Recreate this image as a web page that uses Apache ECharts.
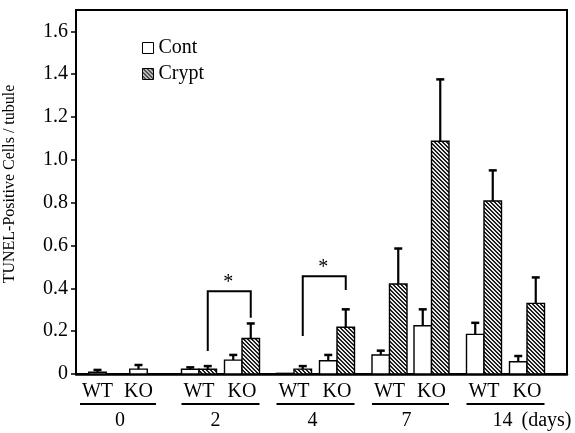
<!DOCTYPE html>
<html><head><meta charset="utf-8">
<script src="https://cdn.jsdelivr.net/npm/echarts@6/dist/echarts.min.js"></script>
<style>html,body{margin:0;padding:0;background:#fff}#chart{width:575px;height:433px}</style>
</head><body><div id="chart"></div>
<script>
// ---------------- data ----------------
const days = ['0', '2', '4', '7', '14'];
const genotypes = ['WT', 'KO'];
const dayUnit = '(days)';
const seriesNames = ['Cont', 'Crypt'];
// order: for each day, WT then KO
const contMean  = [0.008, 0.023, 0.022, 0.065, 0.003, 0.062, 0.089, 0.225, 0.185, 0.057];
const contErr   = [0.011, 0.019, 0.009, 0.024, 0.000, 0.027, 0.020, 0.077, 0.054, 0.027];
const cryptMean = [null, null, 0.022, 0.166, 0.023, 0.218, 0.420, 1.087, 0.808, 0.330];
const cryptErr  = [null, null, 0.015, 0.070, 0.014, 0.084, 0.166, 0.289, 0.143, 0.121];
const yTickValues = [0, 0.2, 0.4, 0.6, 0.8, 1.0, 1.2, 1.4, 1.6];
const yTickLabels = ['0', '0.2', '0.4', '0.6', '0.8', '1.0', '1.2', '1.4', '1.6'];
const yTitle = 'TUNEL-Positive Cells / tubule';
const sigDays = ['2', '4'];
const sigTop = [0.387, 0.457];
const sigLeftEnd = [0.107, 0.177];
const sigRightEnd = [0.263, 0.392];
const sigMark = '*';

// ---------------- layout ----------------
const FONT = "'Liberation Serif', 'Times New Roman', serif";
const GROUP_X = [42, 144.5, 239.5, 334.5, 429.5];   // x-axis units (1 unit = 1 px)
const PAIR_HALF = [20.5, 21.5, 21.5, 21, 21.5];
const DAY_LABEL_SHIFT = [2, -5, -3, -4, -3];
const BAR_W = 17.5;
function pairCenter(i) { const d = Math.floor(i / 2); return GROUP_X[d] + (i % 2 ? PAIR_HALF[d] : -PAIR_HALF[d]); }
function hasCrypt(i) { return cryptMean[i] != null; }
function contCenter(i) { return hasCrypt(i) ? pairCenter(i) - BAR_W / 2 : pairCenter(i); }
function cryptCenter(i) { return pairCenter(i) + BAR_W / 2; }

function makeHatch() {
  const c = document.createElement('canvas'); c.width = 4; c.height = 4;
  const ctx = c.getContext('2d');
  const img = ctx.createImageData(4, 4);
  for (let y = 0; y < 4; y++) for (let x = 0; x < 4; x++) {
    const k = (((x - y) % 4) + 4) % 4;
    const v = k < 2 ? 30 : 235;
    const o = (y * 4 + x) * 4;
    img.data[o] = img.data[o + 1] = img.data[o + 2] = v; img.data[o + 3] = 255;
  }
  ctx.putImageData(img, 0, 0);
  return c;
}
const hatch = { image: makeHatch(), repeat: 'repeat' };

function barRenderer(fill) {
  return function (params, api) {
    const cx = api.value(0), v = api.value(1), e = api.value(2);
    const p0 = api.coord([cx - BAR_W / 2, v]);
    const p1 = api.coord([cx + BAR_W / 2, 0]);
    const pc = api.coord([cx, v]);
    const pe = api.coord([cx, v + e]);
    const children = [{
      type: 'rect',
      shape: { x: p0[0], y: p0[1], width: p1[0] - p0[0], height: Math.max(p1[1] - p0[1], 0.5) },
      style: { fill: fill, stroke: '#000', lineWidth: 1.4 }
    }];
    if (e > 0) {
      children.push({ type: 'line', shape: { x1: pc[0], y1: pc[1], x2: pc[0], y2: pe[1] }, style: { stroke: '#000', lineWidth: 2.2 } });
      children.push({ type: 'line', shape: { x1: pc[0] - 4, y1: pe[1], x2: pc[0] + 4, y2: pe[1] }, style: { stroke: '#000', lineWidth: 2.5 } });
    }
    return { type: 'group', children: children };
  };
}

const contData = [], cryptData = [];
contMean.forEach((v, i) => { if (v != null) contData.push([contCenter(i), v, contErr[i]]); });
cryptMean.forEach((v, i) => { if (v != null) cryptData.push([cryptCenter(i), v, cryptErr[i]]); });

const labelData = days.map((d, k) => [GROUP_X[k], 0, k]);
function labelRenderer(params, api) {
  const k = api.value(2);
  const base = api.coord([GROUP_X[k], 0]);
  const children = [];
  genotypes.forEach((g, gi) => {
    const p = api.coord([pairCenter(k * 2 + gi), 0]);
    children.push({ type: 'text', x: p[0], y: base[1] + 18,
      style: { text: g, fill: '#000', font: '20px ' + FONT, align: 'center', verticalAlign: 'middle' } });
  });
  const half = PAIR_HALF[k] + BAR_W;
  const l = api.coord([GROUP_X[k] - half, 0]), r = api.coord([GROUP_X[k] + half, 0]);
  children.push({ type: 'line', shape: { x1: l[0], y1: base[1] + 30, x2: r[0], y2: base[1] + 30 }, style: { stroke: '#000', lineWidth: 2 } });
  children.push({ type: 'text', x: base[0] + DAY_LABEL_SHIFT[k], y: base[1] + 47,
    style: { text: days[k], fill: '#000', font: '20px ' + FONT, align: 'center', verticalAlign: 'middle' } });
  if (k === days.length - 1) {
    children.push({ type: 'text', x: base[0] + 16, y: base[1] + 47,
      style: { text: dayUnit, fill: '#000', font: '20px ' + FONT, align: 'left', verticalAlign: 'middle' } });
  }
  return { type: 'group', children: children };
}

const sigData = sigDays.map((d, j) => [GROUP_X[days.indexOf(d)], sigTop[j], j]);
function sigRenderer(params, api) {
  const j = api.value(2);
  const k = days.indexOf(sigDays[j]);
  const lx = cryptCenter(k * 2), rx = cryptCenter(k * 2 + 1);
  const pts = [[lx, sigLeftEnd[j]], [lx, sigTop[j]], [rx, sigTop[j]], [rx, sigRightEnd[j]]].map(p => api.coord(p));
  const mid = api.coord([(lx + rx) / 2, sigTop[j]]);
  return { type: 'group', children: [
    { type: 'polyline', shape: { points: pts }, style: { stroke: '#000', lineWidth: 2, fill: null } },
    { type: 'text', x: mid[0] - 1, y: mid[1] + 2,
      style: { text: sigMark, fill: '#000', font: '20px ' + FONT, align: 'center', verticalAlign: 'bottom' } }
  ] };
}

const chart = echarts.init(document.getElementById('chart'), null, { renderer: 'canvas' });
chart.setOption({
  animation: false,
  backgroundColor: '#fff',
  textStyle: { fontFamily: FONT, color: '#000' },
  grid: { left: 76, right: 8, top: 10, bottom: 59, show: true, borderColor: '#000', borderWidth: 2,
    backgroundColor: 'transparent', containLabel: false, outerBoundsMode: 'none' },
  legend: {
    orient: 'vertical', left: 142, top: 38, padding: 0, itemGap: 6,
    itemWidth: 11, itemHeight: 11, icon: 'rect',
    textStyle: { fontSize: 20, fontFamily: FONT, color: '#000' },
    data: [
      { name: seriesNames[0], itemStyle: { color: '#fff', borderColor: '#000', borderWidth: 1 } },
      { name: seriesNames[1], itemStyle: { color: hatch, borderColor: '#000', borderWidth: 1 } }
    ]
  },
  xAxis: {
    type: 'value', min: 0, max: 491,
    axisLine: { show: true, onZero: false, lineStyle: { color: '#000', width: 2.5 } },
    axisTick: { show: false }, axisLabel: { show: false }, splitLine: { show: false }
  },
  yAxis: {
    type: 'value', min: 0, max: 1.7, interval: 0.2,
    name: yTitle, nameLocation: 'middle', nameGap: 58, nameRotate: 90,
    nameTextStyle: { fontSize: 16, fontFamily: FONT, color: '#000', padding: [0, 0, 0, 16] },
    axisLine: { show: true, lineStyle: { color: '#000', width: 2 } },
    axisTick: { show: true, length: 5, customValues: yTickValues, lineStyle: { color: '#000', width: 1.5 } },
    axisLabel: {
      customValues: yTickValues, margin: 8, fontSize: 20, fontFamily: FONT, color: '#000',
      formatter: function (v) {
        const i = yTickValues.findIndex(t => Math.abs(t - v) < 1e-6);
        return i >= 0 ? yTickLabels[i] : '';
      }
    },
    splitLine: { show: false }
  },
  series: [
    { name: seriesNames[0], type: 'custom', clip: false, data: contData, encode: { x: 0, y: 1 },
      itemStyle: { color: '#fff', borderColor: '#000', borderWidth: 1 }, renderItem: barRenderer('#fff') },
    { name: seriesNames[1], type: 'custom', clip: false, data: cryptData, encode: { x: 0, y: 1 },
      itemStyle: { color: hatch, borderColor: '#000', borderWidth: 1 }, renderItem: barRenderer(hatch) },
    { name: 'sig', type: 'custom', clip: false, silent: true, data: sigData, encode: { x: 0, y: 1 }, renderItem: sigRenderer },
    { name: 'xlabels', type: 'custom', clip: false, silent: true, data: labelData, encode: { x: 0, y: 1 }, renderItem: labelRenderer }
  ]
});
</script>
</body></html>
